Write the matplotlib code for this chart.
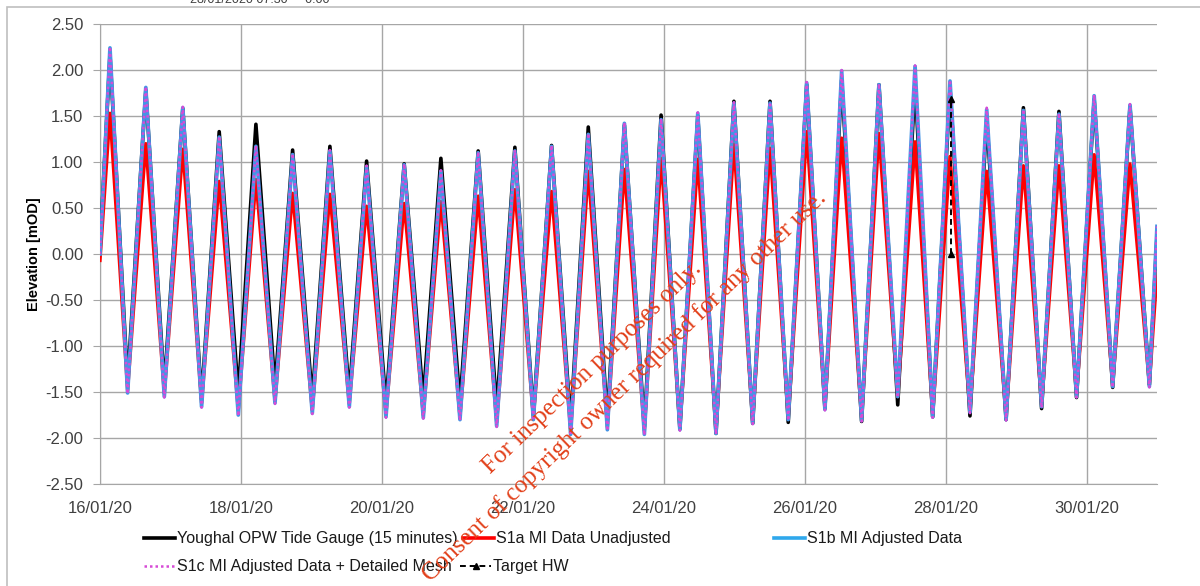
import matplotlib
matplotlib.use("Agg")
import matplotlib.pyplot as plt
import matplotlib.dates as mdates
from matplotlib.lines import Line2D
from matplotlib.patches import Rectangle
import numpy as np
import pandas as pd

# tide turning points (hours after 16/01/2020 00:00)
start = pd.Timestamp("2020-01-16 00:00")
end_hours = 360.0
hw_hours = [3.4, 15.6, 28.2, 40.6, 53.1, 65.6, 78.3, 90.8, 103.6, 116.1,
            128.8, 141.3, 153.8, 166.3, 178.6, 191.1, 203.6, 215.9, 228.2, 240.7,
            252.6, 265.3, 277.6, 289.5, 302.0, 314.5, 326.6, 338.6, 350.8]
lw_hours = [9.4, 21.9, 34.6, 47.1, 59.6, 72.3, 84.9, 97.4, 110.1, 122.6,
            135.1, 147.6, 160.3, 172.8, 185.4, 197.5, 209.8, 222.3, 234.4, 246.9,
            259.4, 271.7, 283.6, 296.3, 308.6, 320.7, 332.6, 344.9, 357.4]
x_ticks = ["2020-01-16", "2020-01-18", "2020-01-20", "2020-01-22",
           "2020-01-24", "2020-01-26", "2020-01-28", "2020-01-30"]

# Youghal OPW Tide Gauge (15 minutes)
gauge_hw = [2.17, 1.78, 1.58, 1.33, 1.41, 1.13, 1.17, 1.01, 0.98, 1.04,
            1.12, 1.16, 1.18, 1.38, 1.40, 1.51, 1.50, 1.66, 1.66, 1.84,
            1.89, 1.84, 1.86, 1.80, 1.47, 1.59, 1.55, 1.68, 1.60]
gauge_lw = [-1.40, -1.45, -1.58, -1.52, -1.45, -1.58, -1.53, -1.63, -1.58, -1.62,
            -1.68, -1.75, -1.85, -1.80, -1.88, -1.90, -1.95, -1.84, -1.83, -1.68,
            -1.82, -1.64, -1.77, -1.76, -1.80, -1.68, -1.56, -1.45, -1.42]
gauge_ends = [0.05, 0.20]

# S1a MI Data Unadjusted
s1a_hw = [1.53, 1.20, 1.14, 0.79, 0.81, 0.66, 0.65, 0.52, 0.55, 0.57,
          0.63, 0.70, 0.68, 0.90, 0.92, 1.04, 1.03, 1.19, 1.15, 1.33,
          1.26, 1.31, 1.22, 1.06, 0.90, 0.96, 0.96, 1.08, 0.98]
s1a_lw = [-1.48, -1.52, -1.62, -1.70, -1.60, -1.70, -1.63, -1.74, -1.75, -1.77,
          -1.83, -1.78, -1.92, -1.88, -1.92, -1.88, -1.92, -1.82, -1.78, -1.67,
          -1.78, -1.55, -1.75, -1.70, -1.77, -1.64, -1.53, -1.42, -1.42]
s1a_ends = [-0.07, -0.20]

# S1b MI Adjusted Data
s1b_hw = [2.24, 1.81, 1.59, 1.27, 1.17, 1.08, 1.12, 0.95, 0.97, 0.90,
          1.10, 1.12, 1.17, 1.30, 1.42, 1.46, 1.53, 1.64, 1.64, 1.86,
          1.99, 1.84, 2.04, 1.88, 1.57, 1.56, 1.52, 1.72, 1.62]
s1b_lw = [-1.51, -1.55, -1.66, -1.75, -1.62, -1.73, -1.66, -1.77, -1.78, -1.80,
          -1.87, -1.80, -1.96, -1.91, -1.96, -1.91, -1.95, -1.84, -1.80, -1.69,
          -1.81, -1.55, -1.77, -1.72, -1.80, -1.66, -1.55, -1.44, -1.44]
s1b_ends = [0.0, 0.30]

# S1c MI Adjusted Data + Detailed Mesh
s1c_hw = [2.25, 1.82, 1.60, 1.28, 1.18, 1.09, 1.13, 0.96, 0.98, 0.91,
          1.11, 1.13, 1.18, 1.31, 1.43, 1.47, 1.54, 1.65, 1.65, 1.87,
          2.00, 1.85, 2.05, 1.89, 1.59, 1.57, 1.53, 1.73, 1.63]
s1c_lw = [-1.52, -1.56, -1.67, -1.76, -1.63, -1.74, -1.67, -1.78, -1.79, -1.81,
          -1.88, -1.81, -1.97, -1.92, -1.97, -1.92, -1.96, -1.85, -1.81, -1.70,
          -1.82, -1.56, -1.78, -1.73, -1.81, -1.67, -1.56, -1.45, -1.45]
s1c_ends = [0.0, 0.30]

# Target HW
target_time = "2020-01-28 01:45"
target_values = [0.0, 1.68]


def tide_series(hw, lw, ends):
    hours = np.concatenate([[0.0], np.column_stack([hw_hours, lw_hours]).ravel(), [end_hours]])
    vals = np.concatenate([[ends[0]], np.column_stack([hw, lw]).ravel(), [ends[1]]])
    return start + pd.to_timedelta(hours, unit="h"), vals


W, H = 1200, 586
BLUE = "#4594E6"
PINK = "#D64BD6"
plt.rcParams["font.family"] = ["Liberation Sans", "DejaVu Sans"]
fig = plt.figure(figsize=(12, 5.86), dpi=100)
ax = fig.add_axes([100 / W, 1 - 484 / H, 1057 / W, 460 / H])

t, v = tide_series(gauge_hw, gauge_lw, gauge_ends)
ax.plot(t, v, color="black", lw=2.6, zorder=3)
t, v = tide_series(s1a_hw, s1a_lw, s1a_ends)
ax.plot(t, v, color="#FF0000", lw=2.4, zorder=4)
t, v = tide_series(s1b_hw, s1b_lw, s1b_ends)
ax.plot(t, v, color=BLUE, lw=2.7, zorder=5)
t, v = tide_series(s1c_hw, s1c_lw, s1c_ends)
ax.plot(t, v, color=PINK, lw=1.8, ls=(0, (1, 1.2)), zorder=6)
tt = pd.to_datetime([target_time, target_time])
ax.plot(tt, target_values, color="black", lw=1.4, ls=(0, (3, 2)), marker="^",
        ms=5, zorder=7)

ax.set_xlim(start, start + pd.Timedelta(hours=end_hours))
ax.set_ylim(-2.5, 2.5)
ax.set_yticks(np.arange(-2.5, 2.51, 0.5))
ax.yaxis.set_major_formatter(matplotlib.ticker.FormatStrFormatter("%.2f"))
ax.set_xticks(pd.to_datetime(x_ticks))
ax.xaxis.set_major_formatter(mdates.DateFormatter("%d/%m/%y"))
ax.grid(True, color="#A6A6A6", lw=1.0)
ax.set_axisbelow(True)
for s in ["top", "right"]:
    ax.spines[s].set_visible(False)
for s in ["left", "bottom"]:
    ax.spines[s].set_color("#A6A6A6")
ax.tick_params(axis="y", length=5, color="#A6A6A6", pad=7, labelsize=12, labelcolor="#404040")
ax.tick_params(axis="x", length=0, pad=12, labelsize=12, labelcolor="#404040")
ax.set_ylabel("Elevation [mOD]", fontsize=10.5, fontweight="bold")
ax.yaxis.set_label_coords(-59 / 1057, 0.5)

# chart frame
fig.add_artist(Rectangle((7 / W, -0.1), 1.2, 1 - 7 / H + 0.1, transform=fig.transFigure,
                         fill=False, edgecolor="#BFBFBF", lw=1.2))
fig.text(190 / W, 1.0, "28/01/2020 07:30     0.00", fontsize=9, color="#404040",
         va="center", ha="left")

# legend (Excel style, fixed columns)
def fx(x):
    return x / W


def fy(y):
    return 1 - y / H


entries = [
    (144, 538, dict(color="black", lw=2.6), "Youghal OPW Tide Gauge (15 minutes)"),
    (463, 538, dict(color="#FF0000", lw=2.6), "S1a MI Data Unadjusted"),
    (774, 538, dict(color="#2FA8EC", lw=2.6), "S1b MI Adjusted Data"),
    (144, 566, dict(color=PINK, lw=1.8, ls=(0, (1, 1.2))), "S1c MI Adjusted Data + Detailed Mesh"),
    (460, 566, dict(color="black", lw=1.4, ls=(0, (3, 2))), "Target HW"),
]
for x0, y0, style, label in entries:
    fig.add_artist(Line2D([fx(x0), fx(x0 + 31)], [fy(y0), fy(y0)], transform=fig.transFigure, **style))
    fig.text(fx(x0 + 33), fy(y0), label, fontsize=11.5, va="center", ha="left", color="#1a1a1a")
fig.add_artist(Line2D([fx(476)], [fy(566)], transform=fig.transFigure, marker="^",
                      color="black", ms=5, lw=0))

# watermark
fig.text(592 / W, 1 - 368 / H, "For inspection purposes only.", family="Liberation Serif",
         fontsize=18, color="#E2401A", rotation=44, ha="center", va="center",
         rotation_mode="anchor")
fig.text(624 / W, 1 - 386 / H, "Consent of copyright owner required for any other use.",
         family="Liberation Serif", fontsize=18, color="#E2401A", rotation=44,
         ha="center", va="center", rotation_mode="anchor")

fig.savefig("out.png", dpi=100)
plt.close(fig)
